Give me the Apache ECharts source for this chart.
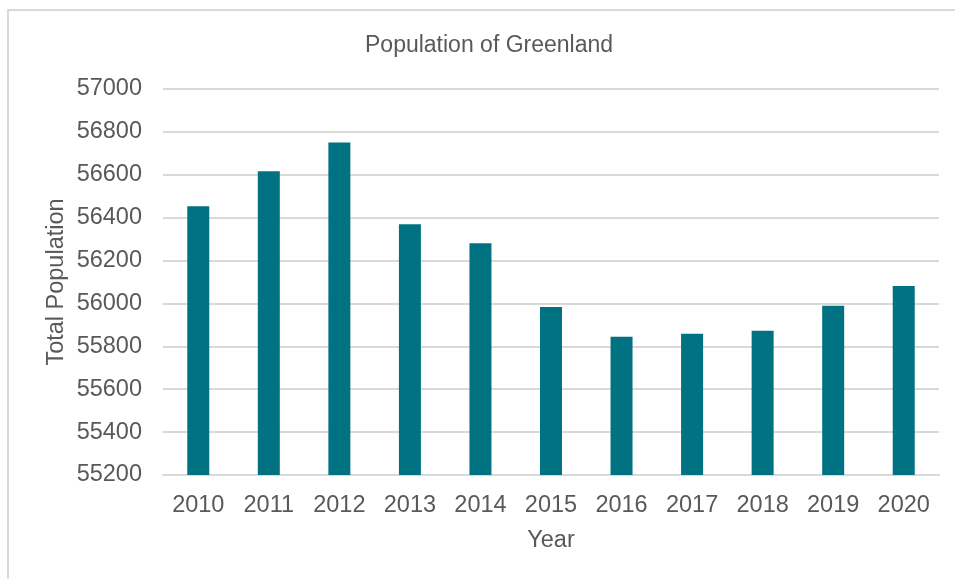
<!DOCTYPE html>
<html>
<head>
<meta charset="utf-8">
<script src="https://cdn.jsdelivr.net/npm/echarts@6/dist/echarts.min.js"></script>
<style>html,body{margin:0;padding:0;background:#fff;}#c{width:955px;height:579px;}</style>
</head>
<body>
<div id="c"></div>
<script>
const years = ['2010','2011','2012','2013','2014','2015','2016','2017','2018','2019','2020'];
const population = [56453, 56616, 56750, 56369, 56281, 55983, 55845, 55859, 55873, 55989, 56081];
const yTicks = {min: 55200, max: 57000, interval: 200};

const chart = echarts.init(document.getElementById('c'));
const font = 'Liberation Sans, Arial, sans-serif';
const fs = 23.5;
chart.setOption({
  backgroundColor: '#fff',
  animation: false,
  graphic: [{
    type: 'rect', shape: {x: 8, y: 10, width: 960, height: 600},
    style: {fill: 'none', stroke: '#d9d9d9', lineWidth: 2}, silent: true
  }],
  title: {
    text: 'Population of Greenland',
    left: 360, top: 29,
    textStyle: {fontFamily: font, fontSize: 23, fontWeight: 'normal', color: '#595959'}
  },
  grid: {left: 163, right: 16, top: 89, bottom: 104, containLabel: false},
  xAxis: {
    type: 'category', data: years,
    name: 'Year', nameLocation: 'middle', nameGap: 54,
    nameMoveOverlap: false,
    nameTextStyle: {fontFamily: font, fontSize: fs, color: '#595959'},
    axisLine: {lineStyle: {color: '#d9d9d9', width: 2}},
    axisTick: {show: false},
    axisLabel: {fontFamily: font, fontSize: fs, color: '#595959', margin: 19, interval: 0}
  },
  yAxis: {
    type: 'value', min: yTicks.min, max: yTicks.max, interval: yTicks.interval,
    name: 'Total Population', nameLocation: 'middle', nameGap: 94, nameRotate: 90,
    nameMoveOverlap: false,
    nameTextStyle: {fontFamily: font, fontSize: fs, color: '#595959'},
    axisLine: {show: false}, axisTick: {show: false},
    axisLabel: {fontFamily: font, fontSize: fs, color: '#595959', margin: 21,
      formatter: function (v) { return String(v); }},
    splitLine: {lineStyle: {color: '#d9d9d9', width: 2}}
  },
  series: [{
    type: 'bar', data: population, barWidth: 22,
    itemStyle: {color: '#017282'}
  }]
});
</script>
</body>
</html>
